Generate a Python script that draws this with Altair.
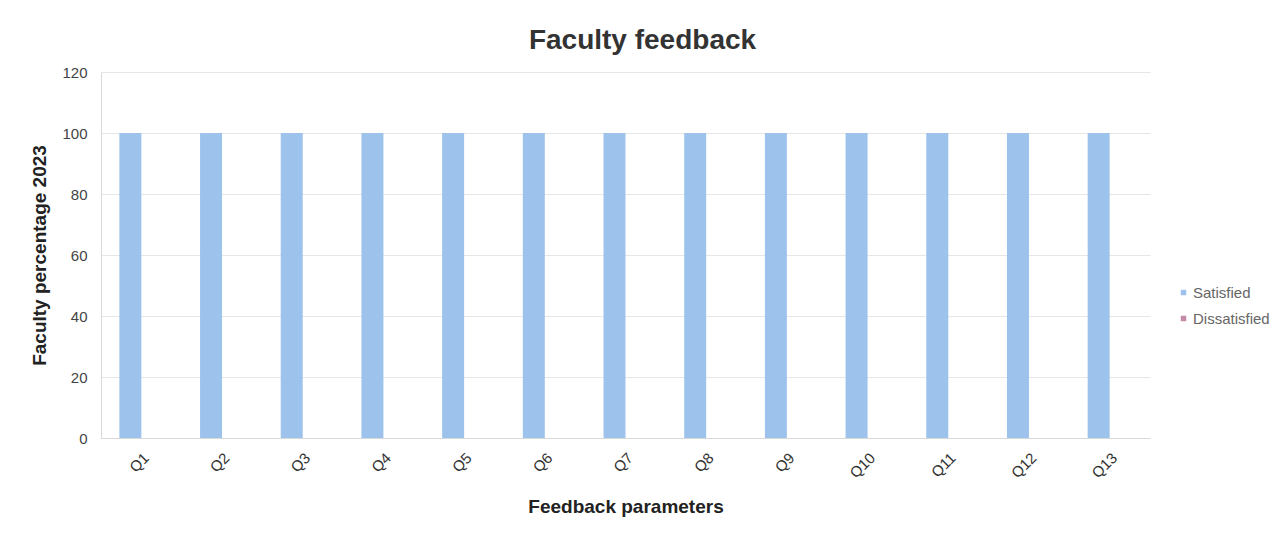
import altair as alt
import pandas as pd

questions = ["Q1", "Q2", "Q3", "Q4", "Q5", "Q6", "Q7", "Q8", "Q9", "Q10", "Q11", "Q12", "Q13"]
satisfied = [100, 100, 100, 100, 100, 100, 100, 100, 100, 100, 100, 100, 100]
dissatisfied = [0, 0, 0, 0, 0, 0, 0, 0, 0, 0, 0, 0, 0]
series = ["Satisfied", "Dissatisfied"]
colors = ["#9DC3EC", "#C48AA6"]

rows = []
for q, s, d in zip(questions, satisfied, dissatisfied):
    rows.append({"q": q, "series": "Satisfied", "value": s})
    rows.append({"q": q, "series": "Dissatisfied", "value": d})
df = pd.DataFrame(rows)

chart = alt.Chart(df).mark_bar().encode(
    x=alt.X("q:N", sort=questions, title="Feedback parameters",
            scale=alt.Scale(paddingInner=0.455, paddingOuter=0.2275),
            axis=alt.Axis(labelAngle=-45, labelFontSize=15, labelColor="#333333",
                          labelFont="Liberation Sans", titleFont="Liberation Sans",
                          titleFontSize=19, titleFontWeight="bold", titleColor="#222222",
                          titlePadding=17, domainColor="#D9D9D9", ticks=False,
                          labelPadding=12)),
    xOffset=alt.XOffset("series:N", sort=series),
    y=alt.Y("value:Q", title="Faculty percentage 2023",
            scale=alt.Scale(domain=[0, 120]),
            axis=alt.Axis(values=[0, 20, 40, 60, 80, 100, 120], labelFontSize=15,
                          labelColor="#444444", labelFont="Liberation Sans",
                          titleFont="Liberation Sans", titleFontSize=19,
                          titleFontWeight="bold", titleColor="#222222",
                          titlePadding=12, gridColor="#E6E6E6", domainColor="#D9D9D9",
                          ticks=False, labelPadding=14)),
    color=alt.Color("series:N", sort=series,
                    scale=alt.Scale(domain=series, range=colors),
                    legend=alt.Legend(title=None, orient="none", legendX=1075, legendY=213,
                                      symbolType="square", symbolSize=30,
                                      labelFontSize=15, labelFont="Liberation Sans",
                                      labelColor="#666666", rowPadding=10, labelOffset=2)),
).properties(
    width=1049, height=366,
    title=alt.TitleParams("Faculty feedback", fontSize=28, font="Liberation Sans",
                          fontWeight="bold", color="#333333", anchor="middle", offset=16,
                          dx=17, dy=6),
    autosize=alt.AutoSizeParams(type="none"),
    padding={"left": 93, "top": 64, "right": 127, "bottom": 93},
).configure(background="white").configure_view(stroke=None)

chart.save("out.html", embed_options={"renderer": "svg", "actions": False})
